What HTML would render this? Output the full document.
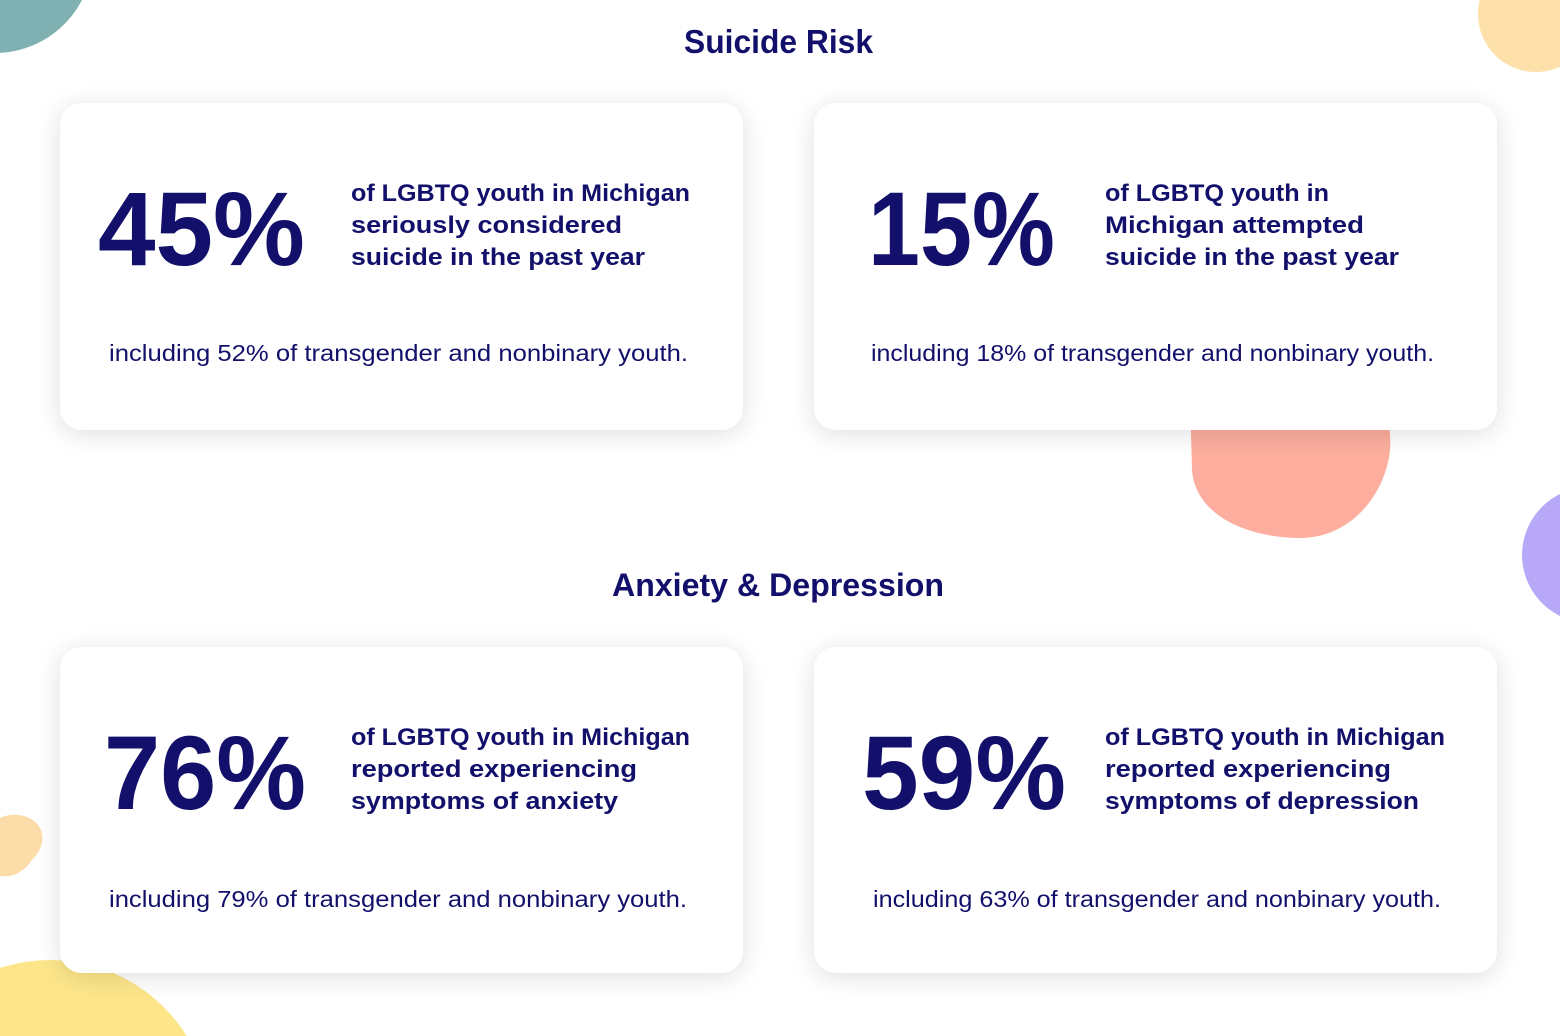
<!DOCTYPE html>
<html>
<head>
<meta charset="utf-8">
<style>
html,body{margin:0;padding:0;background:#fff;width:1560px;height:1036px;overflow:hidden;}
svg{display:block;}
</style>
</head>
<body>
<svg width="1560" height="1036" viewBox="0 0 1560 1036" xmlns="http://www.w3.org/2000/svg">
<defs>
<filter id="sh" filterUnits="userSpaceOnUse" x="0" y="0" width="1560" height="1036">
<feGaussianBlur in="SourceAlpha" stdDeviation="13"/>
<feOffset dx="0" dy="4" result="b"/>
<feComponentTransfer><feFuncA type="linear" slope="0.13"/></feComponentTransfer>
<feMerge><feMergeNode/><feMergeNode in="SourceGraphic"/></feMerge>
</filter>
</defs>
<rect width="1560" height="1036" fill="#fff"/>
<!-- blobs -->
<path d="M0,0 L82,0 A98,98 0 0 1 0,52.9 Z" fill="#7fb0b2"/>
<path d="M1479.7,0 L1560,0 L1560,66.8 A58,58 0 0 1 1479.7,0 Z" fill="#fde0aa"/>
<path d="M1190,400 L1192,470 C1195,512 1240,536 1296,538 C1352,540 1386,492 1390,450 C1392,420 1382,400 1382,400 Z" fill="#fdae9e"/>
<path d="M1560,494 A68,68 0 0 0 1560,616 Z" fill="#b8a8f8"/>
<path d="M0,818 C12,812 32,814 40,828 C46,840 40,852 32,860 C24,872 12,878 2,876 L0,876 Z" fill="#fcdca8"/>
<path d="M0,1036 L0,968 A161,161 0 0 1 186.7,1036 Z" fill="#fde58a"/>

<!-- cards -->
<g filter="url(#sh)">
<rect x="60" y="103" width="683" height="327" rx="22" fill="#fff"/>
<rect x="814" y="103" width="683" height="327" rx="22" fill="#fff"/>
<rect x="60" y="647" width="683" height="326" rx="22" fill="#fff"/>
<rect x="814" y="647" width="683" height="326" rx="22" fill="#fff"/>
</g>

<g fill="#12106a" font-family="'Liberation Sans', sans-serif">
<!-- titles -->
<text x="684" y="53" font-size="33" font-weight="bold" textLength="189" lengthAdjust="spacingAndGlyphs">Suicide Risk</text>
<text x="612" y="596" font-size="32" font-weight="bold" textLength="332" lengthAdjust="spacingAndGlyphs">Anxiety &amp; Depression</text>

<!-- big numbers -->
<text x="98" y="265" font-size="105" font-weight="bold" textLength="207" lengthAdjust="spacingAndGlyphs">45%</text>
<text x="868" y="265" font-size="105" font-weight="bold" textLength="187" lengthAdjust="spacingAndGlyphs">15%</text>
<text x="104" y="809" font-size="105" font-weight="bold" textLength="202" lengthAdjust="spacingAndGlyphs">76%</text>
<text x="862" y="809" font-size="105" font-weight="bold" textLength="204" lengthAdjust="spacingAndGlyphs">59%</text>

<!-- descriptions -->
<g font-size="24" font-weight="bold">
<text x="351" y="201" textLength="339" lengthAdjust="spacingAndGlyphs">of LGBTQ youth in Michigan</text>
<text x="351" y="233" textLength="271" lengthAdjust="spacingAndGlyphs">seriously considered</text>
<text x="351" y="265" textLength="294" lengthAdjust="spacingAndGlyphs">suicide in the past year</text>

<text x="1105" y="201" textLength="224" lengthAdjust="spacingAndGlyphs">of LGBTQ youth in</text>
<text x="1105" y="233" textLength="259" lengthAdjust="spacingAndGlyphs">Michigan attempted</text>
<text x="1105" y="265" textLength="294" lengthAdjust="spacingAndGlyphs">suicide in the past year</text>

<text x="351" y="745" textLength="339" lengthAdjust="spacingAndGlyphs">of LGBTQ youth in Michigan</text>
<text x="351" y="777" textLength="286" lengthAdjust="spacingAndGlyphs">reported experiencing</text>
<text x="351" y="809" textLength="267" lengthAdjust="spacingAndGlyphs">symptoms of anxiety</text>

<text x="1105" y="745" textLength="340" lengthAdjust="spacingAndGlyphs">of LGBTQ youth in Michigan</text>
<text x="1105" y="777" textLength="286" lengthAdjust="spacingAndGlyphs">reported experiencing</text>
<text x="1105" y="809" textLength="314" lengthAdjust="spacingAndGlyphs">symptoms of depression</text>
</g>

<!-- including lines -->
<g font-size="23">
<text x="109" y="361" textLength="579" lengthAdjust="spacingAndGlyphs">including 52% of transgender and nonbinary youth.</text>
<text x="871" y="361" textLength="563" lengthAdjust="spacingAndGlyphs">including 18% of transgender and nonbinary youth.</text>
<text x="109" y="907" textLength="578" lengthAdjust="spacingAndGlyphs">including 79% of transgender and nonbinary youth.</text>
<text x="873" y="907" textLength="568" lengthAdjust="spacingAndGlyphs">including 63% of transgender and nonbinary youth.</text>
</g>
</g>
</svg>
</body>
</html>
